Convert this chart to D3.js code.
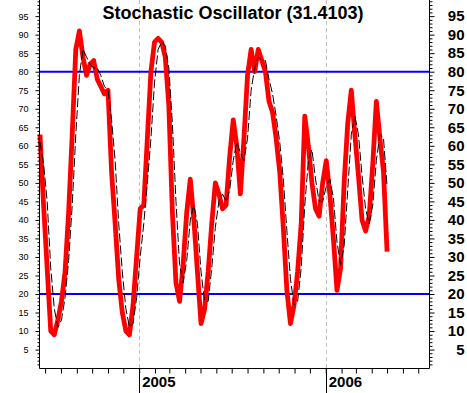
<!DOCTYPE html>
<html><head><meta charset="utf-8">
<script src="https://cdn.jsdelivr.net/npm/d3@7"></script>
<style>body{margin:0;background:#fff}svg{display:block}</style>
</head><body><svg id="c" width="467" height="393"></svg>
<script>
const title = "Stochastic Oscillator (31.4103)";
const firstWeek = "2004-06-21";
const kValues = [63,44,27,10,9,13,18,26,42,63,86,91,84,79,82,83,78,76,74,75,
  53,39,24,15,10,9,17,30,43,44,62,80,88,89,88,84,71,42,23,18,
  28,42,51,40,26,12,16,26,39,50,47,43,44,57,67,60,47,62,79,86,
  80,86,83,80,72,69,62,53,38,21,12,17,26,39,68,60,50,43,41,50,
  56,47,35,21,27,50,66,75,63,52,40,37,41,55,72,62,53,31.41];
const dValues = [61,55,45,27,16,11,13,19,29,44,63,79,86,84,82,81,81,79,76,75,
  67,56,39,26,16,11,12,19,30,39,50,62,77,86,88,87,81,66,45,28,
  23,29,40,44,39,26,18,18,27,38,45,47,45,48,56,61,58,56,62,75,
  81,84,83,83,78,74,68,61,51,37,24,17,18,27,44,56,59,51,45,45,
  49,51,46,34,28,33,48,63,68,63,52,43,39,44,56,63,62,49];
const yTicks = [5,10,15,20,25,30,35,40,45,50,55,60,65,70,75,80,85,90,95];
const yearLabels = ["2005","2006"];
const refLevels = [80, 20];

const svg = d3.select("#c");
const FONT = "'Liberation Sans', Arial, sans-serif";
const L = 39.5, R = 429.5, B = 368.5;

const parse = d3.timeParse("%Y-%m-%d");
const start = parse(firstWeek);
const dates = kValues.map((v, i) => d3.timeDay.offset(start, 7 * i));

const x = d3.scaleTime()
  .domain([parse("2004-06-20"), parse("2006-07-23")])
  .range([L, R]);
const y = d3.scaleLinear().domain([0, 100]).range([368.1, -2.4]);

// year separators
const years = yearLabels.map(s => parse(s + "-01-01"));
svg.append("g").selectAll("line").data(years).join("line")
  .attr("x1", d => Math.round(x(d)) + 0.5).attr("x2", d => Math.round(x(d)) + 0.5)
  .attr("y1", 0).attr("y2", B)
  .attr("stroke", "#c0c0c0").attr("stroke-width", 1).attr("stroke-dasharray", "4,3");

// reference lines
svg.append("g").selectAll("line").data(refLevels).join("line")
  .attr("x1", L).attr("x2", R)
  .attr("y1", d => y(d)).attr("y2", d => y(d))
  .attr("stroke", "#0000ff").attr("stroke-width", 2);

const lineK = d3.line().x((d, i) => x(dates[i])).y(d => y(d));
svg.append("path").datum(kValues).attr("d", lineK)
  .attr("fill", "none").attr("stroke", "#ff0000").attr("stroke-width", 4.8)
  .attr("stroke-linejoin", "round");
svg.append("path").datum(dValues).attr("d", lineK)
  .attr("fill", "none").attr("stroke", "#000").attr("stroke-width", 1)
  .attr("stroke-dasharray", "9,3");

// left axis
const allY = d3.range(1, 100);
const gl = svg.append("g").attr("transform", `translate(${L},0)`)
  .call(d3.axisLeft(y).tickValues(allY).tickSize(2).tickPadding(9)
    .tickFormat(d => yTicks.includes(d) ? d : ""));
gl.select(".domain").attr("d", `M0,0V${B}`).attr("stroke", "#000");
gl.selectAll(".tick line").attr("x2", d => yTicks.includes(d) ? -4 : -2);
gl.selectAll(".tick text").attr("font-family", FONT).attr("font-size", 9)
  .attr("fill", "#000").attr("x", -11);

// right axis
const gr = svg.append("g").attr("transform", `translate(${R},0)`)
  .call(d3.axisRight(y).tickValues(allY).tickSize(3)
    .tickFormat(d => yTicks.includes(d) ? d : ""));
gr.select(".domain").attr("d", `M0,0V${B}`).attr("stroke", "#000");
gr.selectAll(".tick line").attr("x2", d => yTicks.includes(d) ? 5 : 3);
gr.selectAll(".tick text").attr("font-family", FONT).attr("font-size", 15)
  .attr("font-weight", "bold").attr("fill", "#000")
  .attr("text-anchor", "end").attr("x", 35);

// bottom axis
const gb = svg.append("g").attr("transform", `translate(0,${B})`)
  .call(d3.axisBottom(x).ticks(d3.timeMonth.every(1)).tickSize(5).tickFormat(""));
gb.select(".domain").attr("d", `M${L},0H${R}`).attr("stroke", "#000");

svg.append("g").selectAll("line").data(years).join("line")
  .attr("x1", d => Math.round(x(d)) + 0.5).attr("x2", d => Math.round(x(d)) + 0.5)
  .attr("y1", B).attr("y2", 393).attr("stroke", "#000").attr("stroke-width", 1);
svg.append("g").selectAll("text").data(years).join("text")
  .attr("x", d => x(d) + 3).attr("y", 387)
  .attr("font-family", FONT).attr("font-size", 15).attr("font-weight", "bold")
  .text((d, i) => yearLabels[i]);

// title
svg.append("text").attr("x", 233).attr("y", 19).attr("text-anchor", "middle")
  .attr("font-family", FONT).attr("font-size", 18).attr("font-weight", "bold")
  .text(title);
</script>
</body></html>
